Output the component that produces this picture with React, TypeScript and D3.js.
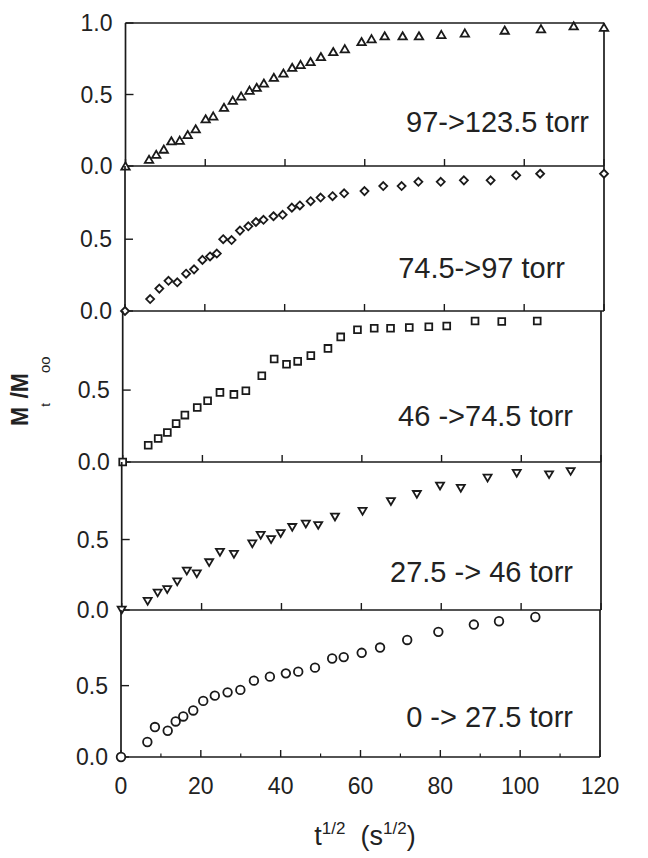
import React from "react";
import * as d3 from "d3";

// ---------- data ----------
const xTicks = [0, 20, 40, 60, 80, 100, 120];
const xMinorTicks = [10, 30, 50, 70, 90, 110];
const panelLabels = ["97->123.5 torr", "74.5->97 torr", "46 ->74.5 torr", "27.5 -> 46 torr", "0 -> 27.5 torr"];
const markerKinds = ["triangleUp", "diamond", "square", "triangleDown", "circle"];

const t1 = [0, 5.9, 7.7, 9.6, 11.5, 13.6, 15.6, 17.6, 20.1, 22.0, 24.7, 26.9, 29.0, 31.1, 32.9, 34.7, 37.2, 39.6, 41.8, 43.9, 46.4, 49.0, 52.1, 55.0, 59.2, 61.7, 65.0, 69.5, 73.6, 79.2, 85.1, 95.1, 104.2, 112.4, 120];
const m1 = [0, 0.047, 0.082, 0.118, 0.176, 0.18, 0.22, 0.26, 0.33, 0.35, 0.41, 0.46, 0.49, 0.53, 0.55, 0.58, 0.62, 0.65, 0.69, 0.71, 0.73, 0.765, 0.80, 0.82, 0.87, 0.89, 0.91, 0.91, 0.91, 0.92, 0.93, 0.95, 0.96, 0.98, 0.97];

const t2 = [0, 6.3, 8.6, 10.9, 13.1, 15.3, 17.3, 19.4, 21.3, 23.0, 24.6, 26.7, 28.8, 30.9, 32.8, 34.7, 37.2, 39.5, 41.8, 43.8, 46.5, 49.0, 52.0, 54.9, 60.0, 64.7, 69.3, 73.5, 79.1, 84.9, 91.6, 98.0, 104.0, 120];
const m2 = [0, 0.083, 0.156, 0.21, 0.20, 0.26, 0.29, 0.356, 0.38, 0.40, 0.50, 0.494, 0.56, 0.59, 0.62, 0.635, 0.66, 0.67, 0.72, 0.735, 0.765, 0.79, 0.80, 0.82, 0.835, 0.87, 0.87, 0.90, 0.90, 0.91, 0.91, 0.945, 0.956, 0.956];

const t3 = [0, 6.4, 8.9, 11.2, 13.4, 15.6, 18.7, 21.3, 24.4, 27.9, 30.9, 34.9, 38.0, 41.1, 43.9, 47.2, 51.5, 54.7, 58.9, 63.1, 67.2, 71.9, 76.8, 81.3, 88.4, 95.1, 104.0];
const m3 = [0, 0.116, 0.163, 0.205, 0.267, 0.326, 0.379, 0.426, 0.484, 0.47, 0.495, 0.60, 0.716, 0.68, 0.70, 0.74, 0.79, 0.87, 0.92, 0.93, 0.93, 0.935, 0.94, 0.946, 0.98, 0.977, 0.98];

const t4 = [0, 6.5, 9.0, 11.4, 13.9, 16.3, 18.8, 21.9, 24.6, 28.1, 32.7, 34.8, 37.4, 39.8, 42.7, 46.1, 49.2, 53.4, 60.3, 67.4, 73.9, 79.7, 84.9, 91.6, 98.9, 107.0, 112.4];
const m4 = [0, 0.062, 0.121, 0.145, 0.20, 0.276, 0.257, 0.336, 0.41, 0.395, 0.47, 0.53, 0.50, 0.543, 0.586, 0.61, 0.60, 0.66, 0.70, 0.77, 0.82, 0.88, 0.864, 0.936, 0.97, 0.96, 0.983];

const t5 = [0, 6.6, 8.5, 11.7, 13.7, 15.6, 18.1, 20.6, 23.5, 26.7, 29.9, 33.3, 37.3, 41.3, 44.4, 48.6, 52.9, 55.8, 60.3, 64.9, 71.7, 79.5, 88.4, 94.7, 103.8];
const m5 = [0, 0.105, 0.21, 0.184, 0.249, 0.284, 0.326, 0.393, 0.43, 0.453, 0.47, 0.535, 0.563, 0.586, 0.598, 0.626, 0.69, 0.70, 0.73, 0.767, 0.82, 0.877, 0.928, 0.951, 0.981];

const seriesT = [t1, t2, t3, t4, t5];
const seriesM = [m1, m2, m3, m4, m5];
const yDomainMax = [1.0, 1.01, 1.05, 1.05, 1.03];

// ---------- layout ----------
const W = 648;
const H = 858;
const panelLeft = [125.5, 125, 122.7, 121.7, 121];
const panelRight = [604, 604, 601, 601, 600];
const panelEdges = [23, 166, 311, 462, 610, 757];
const labelRight = [589, 565, 573, 573, 573];
const labelBaseline = [132, 278, 426, 582, 727];
const FONT = "'Liberation Sans', Arial, Helvetica, sans-serif";
const INK = "#1a1a1a";

function markerPath(kind: string, cx: number, cy: number): string {
  const p = d3.path();
  if (kind === "triangleUp") {
    const w = 4.2, h = 7.2;
    p.moveTo(cx, cy - h / 2);
    p.lineTo(cx + w, cy + h / 2);
    p.lineTo(cx - w, cy + h / 2);
    p.closePath();
  } else if (kind === "triangleDown") {
    const w = 4.0, h = 6.8;
    p.moveTo(cx - w, cy - h / 2);
    p.lineTo(cx + w, cy - h / 2);
    p.lineTo(cx, cy + h / 2);
    p.closePath();
  } else if (kind === "diamond") {
    const r = 4.0;
    p.moveTo(cx, cy - r);
    p.lineTo(cx + r, cy);
    p.lineTo(cx, cy + r);
    p.lineTo(cx - r, cy);
    p.closePath();
  } else if (kind === "square") {
    const s = 3.4;
    p.rect(cx - s, cy - s, 2 * s, 2 * s);
  } else {
    p.moveTo(cx + 4.3, cy);
    p.arc(cx, cy, 4.3, 0, Math.PI * 2);
    p.closePath();
  }
  return p.toString();
}

export default function App() {
  const nPanels = seriesT.length;
  const xBottom = d3.scaleLinear().domain([0, 120]).range([panelLeft[nPanels - 1], panelRight[nPanels - 1]]);

  return (
    <svg width={W} height={H} style={{ display: "block", position: "absolute", left: 0, top: 0, background: "#fff" }}>
      <rect x={0} y={0} width={W} height={H} fill="#fff" />
      {d3.range(nPanels).map((i) => {
        const top = panelEdges[i];
        const bottom = panelEdges[i + 1];
        const L = panelLeft[i];
        const R = panelRight[i];
        const x = d3.scaleLinear().domain([0, 120]).range([L, R]);
        const y = d3.scaleLinear().domain([0, yDomainMax[i]]).range([bottom, top]);
        const yTickVals = i === 0 ? [0, 0.5, 1.0] : [0, 0.5];
        const isBottom = i === nPanels - 1;
        return (
          <g key={i}>
            {/* frame */}
            <line x1={L} x2={L} y1={top} y2={bottom} stroke={INK} strokeWidth={1.7} />
            <line x1={R} x2={R} y1={top} y2={bottom} stroke={INK} strokeWidth={1.7} />
            <line x1={L} x2={R} y1={bottom} y2={bottom} stroke={INK} strokeWidth={1.7} />
            {i === 0 && <line x1={L} x2={R} y1={top} y2={top} stroke={INK} strokeWidth={1.7} />}
            {/* x ticks (inward) */}
            {xTicks.map((v) => (
              <line key={"xt" + v} x1={x(v)} x2={x(v)} y1={bottom} y2={bottom - 7} stroke={INK} strokeWidth={1.4} />
            ))}
            {isBottom &&
              xMinorTicks.map((v) => (
                <line key={"xm" + v} x1={x(v)} x2={x(v)} y1={bottom} y2={bottom - 3.5} stroke={INK} strokeWidth={1.2} />
              ))}
            {/* y ticks */}
            {yTickVals.map((v) => (
              <g key={"yt" + v}>
                <line x1={L} x2={L + 8} y1={y(v)} y2={y(v)} stroke={INK} strokeWidth={1.4} />
                <text x={L - 13} y={y(v)} dy="0.36em" textAnchor="end" fontFamily={FONT} fontSize={23} fill="#222">
                  {d3.format(".1f")(v)}
                </text>
              </g>
            ))}
            {/* panel label */}
            <text x={labelRight[i]} y={labelBaseline[i]} textAnchor="end" fontFamily={FONT} fontSize={29} fill="#222">
              {panelLabels[i]}
            </text>
            {/* markers */}
            {seriesT[i].map((t, j) => (
              <path
                key={j}
                d={markerPath(markerKinds[i], x(t), y(seriesM[i][j]))}
                fill="#fff"
                stroke={INK}
                strokeWidth={1.8}
              />
            ))}
          </g>
        );
      })}
      {/* x tick labels */}
      {xTicks.map((v) => (
        <text key={"xl" + v} x={xBottom(v)} y={794} textAnchor="middle" fontFamily={FONT} fontSize={23} fill="#222">
          {v}
        </text>
      ))}
      {/* x axis title */}
      <text x={365} y={845} textAnchor="middle" fontFamily={FONT} fontSize={27} fill="#222">
        t<tspan fontSize={17} dy={-11}>1/2</tspan>
        <tspan dy={11}>{"\u00a0\u00a0(s"}</tspan>
        <tspan fontSize={17} dy={-11}>1/2</tspan>
        <tspan dy={11}>)</tspan>
      </text>
      {/* y axis title */}
      <text transform="translate(28,426) rotate(-90)" fontFamily={FONT} fontSize={23} fontWeight="bold" fill="#222">
        M<tspan fontSize={13} fontWeight="normal" dy={22}>t</tspan>
        <tspan dy={-22}>{"\u2009/M"}</tspan>
        <tspan fontSize={15} fontWeight="normal" dy={22}>oo</tspan>
      </text>
    </svg>
  );
}
